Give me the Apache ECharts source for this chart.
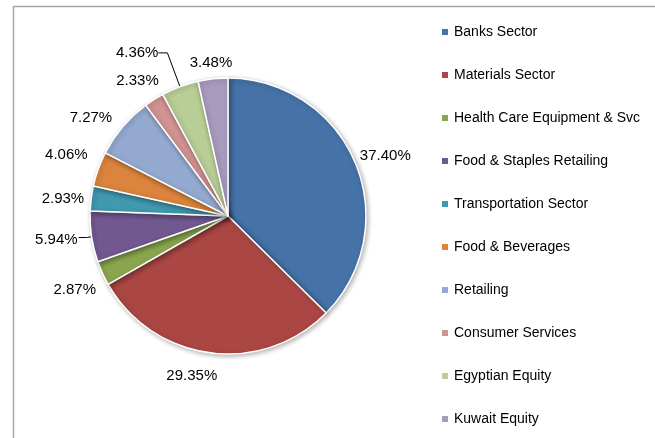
<!DOCTYPE html>
<html>
<head>
<meta charset="utf-8">
<script src="https://cdn.jsdelivr.net/npm/echarts@6/dist/echarts.min.js"></script>
<style>
  html, body { margin: 0; padding: 0; background: #fff; }
  #pie1 { width: 655px; height: 438px; }
</style>
</head>
<body>
<div id="pie1"></div>
<script>
// data
var sectors = ['Banks Sector', 'Materials Sector', 'Health Care Equipment & Svc',
  'Food & Staples Retailing', 'Transportation Sector', 'Food & Beverages',
  'Retailing', 'Consumer Services', 'Egyptian Equity', 'Kuwait Equity'];
var weights = [37.40, 29.35, 2.87, 5.94, 2.93, 4.06, 7.27, 2.33, 4.36, 3.48];

// styling
var colors = ['#4572A7', '#AA4643', '#89A54E', '#71588F', '#4198AF',
  '#DB843D', '#93A9CF', '#D19392', '#B9CD96', '#A99BBD'];
// slices whose label gets a leader line (like in excel)
var leader = { 3: { length: 5, length2: 8 }, 8: { length: 36, length2: 9 } };
// small nudges for the data labels [dx, dy]
var labelShift = [[-3, -5], [10, 17], [1, 14], [1, 2], [1, 1],
  [-3, -12], [-4, -5], [10, -14], [2, 0], [22, -10]];

var myChart = echarts.init(document.getElementById('pie1'));

var pieData = sectors.map(function (name, i) {
  var item = { name: name, value: weights[i] };
  if (leader[i]) {
    item.labelLine = { show: true, length: leader[i].length, length2: leader[i].length2 };
  }
  return item;
});

var option = {
  color: colors,
  animation: false,
  graphic: [{
    type: 'polyline',
    shape: { points: [[13.5, 450], [13.5, 6.5], [670, 6.5]] },
    style: { stroke: '#a6a6a6', lineWidth: 1.5, fill: null }
  }],
  legend: {
    orient: 'vertical',
    left: 435,
    top: 20,
    icon: 'rect',
    itemWidth: 8,
    itemHeight: 8,
    itemGap: 29,
    textStyle: { fontFamily: 'Liberation Sans', fontSize: 14, color: '#000' },
    data: sectors
  },
  series: [{
    type: 'pie',
    center: [228, 216],
    radius: 138,
    startAngle: 90,
    avoidLabelOverlap: false,
    data: pieData,
    itemStyle: {
      borderColor: '#fff',
      borderWidth: 1.5,
      shadowBlur: 5,
      shadowOffsetX: 1.5,
      shadowOffsetY: 1.5,
      shadowColor: 'rgba(0,0,0,0.3)'
    },
    label: {
      show: true,
      position: 'outside',
      fontFamily: 'Liberation Sans',
      fontSize: 15,
      color: '#000',
      distanceToLabelLine: 2,
      formatter: function (p) { return p.value.toFixed(2) + '%'; }
    },
    labelLine: {
      show: false,
      length: 6,
      length2: 0,
      lineStyle: { color: '#000', width: 1 }
    },
    labelLayout: function (params) {
      var s = labelShift[params.dataIndex];
      return { dx: s[0], dy: s[1] };
    },
    emphasis: { disabled: true }
  }]
};
myChart.setOption(option);
</script>
</body>
</html>
